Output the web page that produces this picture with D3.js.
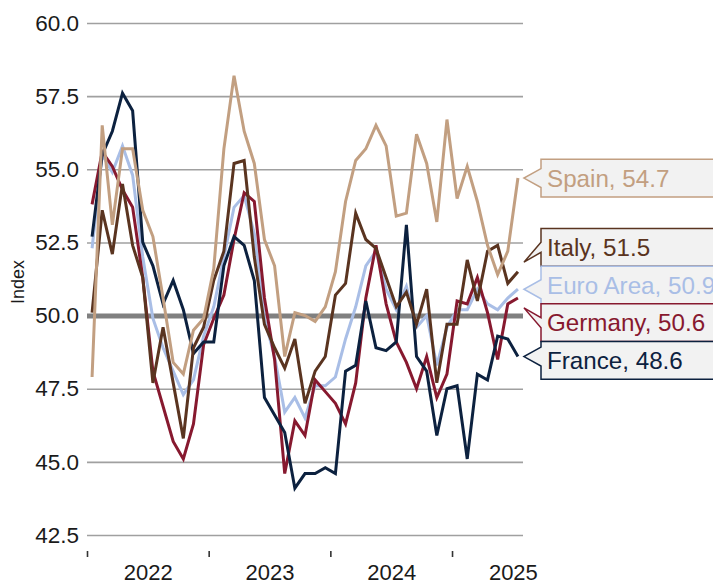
<!DOCTYPE html>
<html>
<head>
<meta charset="utf-8">
<script src="https://cdn.jsdelivr.net/npm/d3@7"></script>
<style>
  html, body { margin: 0; padding: 0; background: #ffffff; }
  svg { display: block; font-family: "Liberation Sans", Arial, Helvetica, sans-serif; }
</style>
</head>
<body>
<svg id="chart" width="713" height="585"></svg>
<script>
// ---- Data (monthly composite PMI, Jan 2022 – Jul 2025) ----
const months = d3.timeMonths(new Date(2022, 0, 1), new Date(2025, 7, 1));
const yearLabels = ["2022", "2023", "2024", "2025"];
const yTickValues = [42.5, 45.0, 47.5, 50.0, 52.5, 55.0, 57.5, 60.0];

const euroArea = [
  52.3, 55.5, 54.9, 55.8, 54.8, 52.0, 49.9, 48.9, 48.1, 47.3, 47.8, 49.3,
  50.3, 52.0, 53.7, 54.1, 52.8, 49.9, 48.6, 46.7, 47.2, 46.5, 47.6, 47.6,
  47.9, 49.2, 50.3, 51.7, 52.2, 50.9, 50.2, 51.0, 49.6, 50.0, 48.3, 49.6,
  50.2, 50.2, 50.9, 50.4, 50.2, 50.6, 50.9];
const germany = [
  53.8, 55.6, 55.1, 54.3, 53.7, 51.3, 48.1, 46.9, 45.7, 45.1, 46.3, 49.0,
  49.9, 50.7, 52.6, 54.2, 53.9, 50.6, 48.5, 44.6, 46.4, 45.9, 47.8, 47.4,
  47.0, 46.3, 47.7, 50.6, 52.4, 50.4, 49.1, 48.4, 47.5, 48.6, 47.2, 48.0,
  50.5, 50.4, 51.3, 50.1, 48.5, 50.4, 50.6];
const france = [
  52.7, 55.5, 56.3, 57.6, 57.0, 52.5, 51.7, 50.4, 51.2, 50.2, 48.7, 49.1,
  49.1, 51.7, 52.7, 52.4, 51.2, 47.2, 46.6, 46.0, 44.1, 44.6, 44.6, 44.8,
  44.6, 48.1, 48.3, 50.5, 48.9, 48.8, 49.1, 53.1, 48.6, 48.1, 45.9, 47.5,
  47.6, 45.1, 48.0, 47.8, 49.3, 49.2, 48.6];
const italy = [
  50.1, 53.6, 52.1, 54.5, 52.4, 51.3, 47.7, 49.6, 47.7, 45.8, 48.9, 49.6,
  51.2, 52.2, 55.2, 55.3, 52.0, 49.7, 48.9, 48.2, 49.2, 47.0, 48.1, 48.6,
  50.7, 51.1, 53.5, 52.6, 52.3, 51.3, 50.3, 50.8, 49.7, 50.9, 47.7, 49.7,
  49.7, 51.9, 50.5, 52.2, 52.4, 51.1, 51.5];
const spain = [
  47.9, 56.5, 53.1, 55.7, 55.7, 53.6, 52.7, 50.6, 48.4, 48.0, 49.5, 49.9,
  51.6, 55.7, 58.2, 56.3, 55.2, 52.6, 51.7, 48.6, 50.1, 50.0, 49.8, 50.3,
  51.5, 53.9, 55.3, 55.7, 56.5, 55.8, 53.4, 53.5, 56.2, 55.2, 53.2, 56.7,
  54.0, 55.1, 53.9, 52.4, 51.4, 52.2, 54.7];

const seriesNames  = ["Euro Area", "Germany", "France", "Italy", "Spain"];
const seriesValues = [euroArea, germany, france, italy, spain];
const seriesColors = ["#a9bee6", "#87192f", "#0c213f", "#5a3420", "#c29f81"];
const legendOrder  = ["Spain", "Italy", "Euro Area", "Germany", "France"];

// ---- Layout ----
const svg = d3.select("#chart");
const plot = { left: 87, right: 523, top: 23, bottom: 535 };

const x = d3.scaleLinear().domain([-0.5, months.length - 0.5]).range([plot.left, plot.right]);
const y = d3.scaleLinear().domain([42.5, 60]).range([plot.bottom, plot.top]);

// Grid + y labels
const yAxis = d3.axisLeft(y)
  .tickValues(yTickValues)
  .tickSize(plot.right - plot.left)
  .tickPadding(8)
  .tickFormat(d3.format(".1f"));
const gy = svg.append("g").attr("transform", `translate(${plot.right},0)`).call(yAxis);
gy.select(".domain").remove();
gy.selectAll(".tick line").attr("stroke", "#a0a0a0").attr("stroke-width", 1.6);
gy.selectAll(".tick text").attr("fill", "#1a1a1a").attr("font-size", 22.5)
  .attr("font-family", "Liberation Sans, Arial, sans-serif");
gy.selectAll(".tick").filter(d => d === 50).select("line")
  .attr("stroke", "#808080").attr("stroke-width", 5);

// y title
svg.append("text")
  .attr("transform", `translate(24,${(plot.top + plot.bottom) / 2 + 3}) rotate(-90)`)
  .attr("text-anchor", "middle")
  .attr("font-size", 18)
  .attr("fill", "#1a1a1a")
  .text("Index");

// x ticks at year boundaries
const yearStartIdx = yearLabels.map(yr => months.findIndex(m => m.getFullYear() === +yr) - 0.5);
const xAxis = d3.axisBottom(x).tickValues(yearStartIdx).tickSize(6).tickFormat("");
const gx = svg.append("g").attr("transform", "translate(0,551)").call(xAxis);
gx.select(".domain").remove();
gx.selectAll(".tick line").attr("stroke", "#333").attr("stroke-width", 1.6);

// year labels centred in each year
const yearMidIdx = yearLabels.map(yr => months.findIndex(m => m.getFullYear() === +yr) + 5.5);
const xLab = d3.axisBottom(x).tickValues(yearMidIdx).tickSize(0).tickPadding(0)
  .tickFormat((d, i) => yearLabels[i]);
const gxl = svg.append("g").attr("transform", "translate(0,564)").call(xLab);
gxl.select(".domain").remove();
gxl.selectAll(".tick text").attr("font-size", 22).attr("fill", "#1a1a1a")
  .attr("dy", "0.72em").attr("font-family", "Liberation Sans, Arial, sans-serif");

// Lines
const line = d3.line().x((d, i) => x(i)).y(d => y(d));
seriesValues.forEach((vals, k) => {
  svg.append("path")
    .datum(vals)
    .attr("fill", "none")
    .attr("stroke", seriesColors[k])
    .attr("stroke-width", 3)
    .attr("stroke-linejoin", "miter")
    .attr("d", line);
});

// ---- Callout labels ----
const boxH = 37.7, boxX = 541, boxRight = 900, tipX = x(months.length - 1) + 6;
let labels = legendOrder.map(name => {
  const k = seriesNames.indexOf(name);
  const vals = seriesValues[k];
  const v = vals[vals.length - 1];
  return { name, color: seriesColors[k], value: v, target: y(v) };
});
labels.sort((a, b) => a.target - b.target);
// cluster de-overlap
let groups = labels.map(l => ({ items: [l], center: l.target }));
let merged = true;
while (merged) {
  merged = false;
  for (let i = 0; i < groups.length - 1; i++) {
    const a = groups[i], b = groups[i + 1];
    const aBottom = a.center + a.items.length * boxH / 2;
    const bTop = b.center - b.items.length * boxH / 2;
    if (aBottom > bTop) {
      const items = a.items.concat(b.items);
      groups.splice(i, 2, { items, center: d3.mean(items, d => d.target) });
      merged = true;
      break;
    }
  }
}
groups.forEach(g => {
  const top0 = g.center - g.items.length * boxH / 2;
  g.items.forEach((l, j) => { l.top = top0 + j * boxH; l.bottom = l.top + boxH; });
});

labels.forEach(l => {
  const tipY = Math.max(l.top + 4, Math.min(l.bottom - 4, l.target));
  const mid = (l.top + l.bottom) / 2;
  let b0, b1;
  if (l.target < l.top + 4 || l.target > l.bottom - 4) {
    b0 = mid - 5; b1 = mid + 5;
  } else {
    const c = Math.max(l.top + 11, Math.min(l.bottom - 11, tipY));
    b0 = c - 9.5; b1 = c + 9.5;
  }
  const p = d3.path();
  p.moveTo(boxX, l.top);
  p.lineTo(boxRight, l.top);
  p.lineTo(boxRight, l.bottom);
  p.lineTo(boxX, l.bottom);
  p.lineTo(boxX, b1);
  p.lineTo(tipX, tipY);
  p.lineTo(boxX, b0);
  p.closePath();
  svg.append("path").attr("d", p.toString())
    .attr("fill", "#f2f2f2").attr("stroke", l.color).attr("stroke-width", 1.5);
  svg.append("text")
    .attr("x", boxX + 6)
    .attr("y", mid)
    .attr("dy", "0.36em")
    .attr("font-size", 24.2)
    .attr("fill", l.color)
    .text(`${l.name}, ${d3.format(".1f")(l.value)}`);
});
</script>
</body>
</html>
